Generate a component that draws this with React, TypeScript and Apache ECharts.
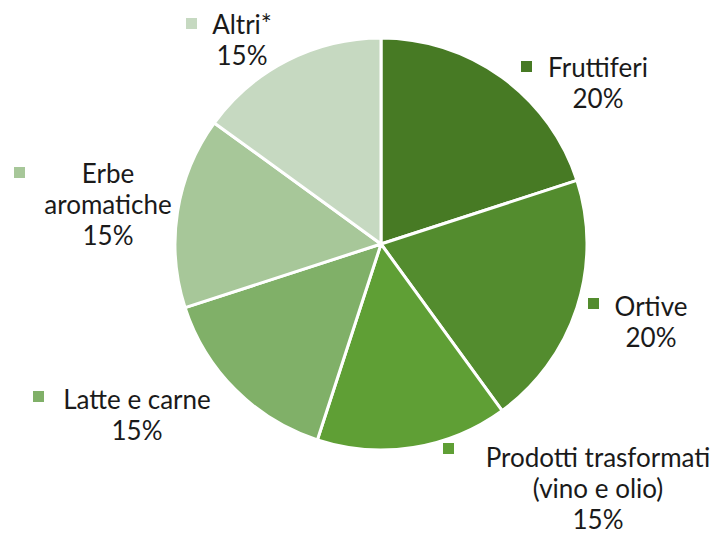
import React, { useEffect, useRef } from "react";
import * as echarts from "echarts";

const categories = [
  "Fruttiferi",
  "Ortive",
  "Prodotti trasformati\n(vino e olio)",
  "Latte e carne",
  "Erbe\naromatiche",
  "Altri*",
];
const values = [20, 20, 15, 15, 15, 15];
const colors = ["#477a24", "#538c2e", "#5f9f35", "#80b068", "#a7c799", "#c6d9c1"];

// label block centers and marker positions (layout)
const labelPos = [
  [598, 82],
  [651, 321],
  [598, 488],
  [137, 414],
  [108, 204],
  [242, 39],
];
const markerPos = [
  [521, 61],
  [588, 298],
  [443, 443],
  [33, 391],
  [14, 167],
  [186, 18],
];

export default function App() {
  const ref = useRef<HTMLDivElement>(null);
  useEffect(() => {
    if (!ref.current) return;
    const chart = echarts.init(ref.current, undefined, { renderer: "svg" });
    chart.setOption({
      animation: false,
      backgroundColor: "#ffffff",
      color: colors,
      series: [
        {
          type: "pie",
          center: [381, 244],
          radius: 206,
          startAngle: 90,
          clockwise: true,
          itemStyle: { borderColor: "#ffffff", borderWidth: 3 },
          label: {
            show: true,
            position: "outside",
            formatter: "{b}\n{d}%",
            fontFamily: "Lato, 'Noto Sans', sans-serif",
            fontSize: 26,
            lineHeight: 31,
            color: "#1a1a1a",
            align: "center",
            overflow: "none",
            width: 300,
          },
          labelLine: { show: false },
          labelLayout: (params: any) => ({
            x: labelPos[params.dataIndex][0],
            y: labelPos[params.dataIndex][1],
            align: "center",
            verticalAlign: "middle",
            hideOverlap: false,
          }),
          emphasis: { disabled: true },
          data: categories.map((c, i) => ({ name: c, value: values[i] })),
        },
      ],
      graphic: markerPos.map((p, i) => ({
        type: "rect",
        shape: { x: p[0], y: p[1], width: 11, height: 11 },
        style: { fill: colors[i] },
      })),
    });
    return () => chart.dispose();
  }, []);
  return (
    <div
      ref={ref}
      style={{ position: "fixed", left: 0, top: 0, width: 717, height: 537 }}
    />
  );
}
